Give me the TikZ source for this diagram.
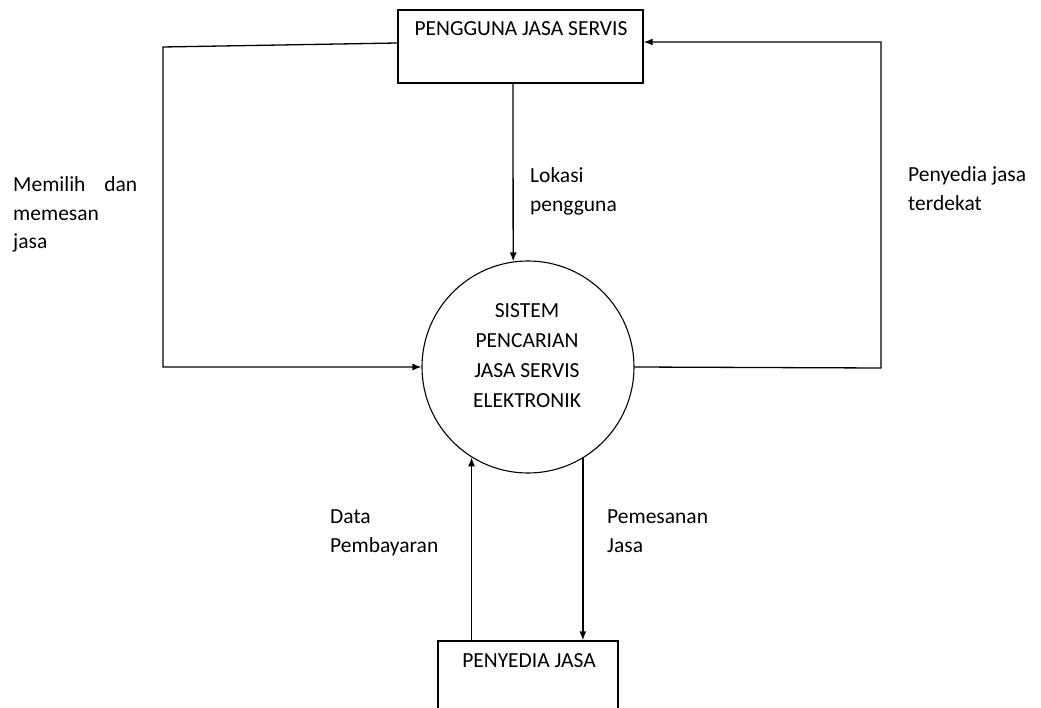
\documentclass[tikz,border=0pt]{standalone}
\usepackage{fontspec}
\setmainfont{Carlito}
\usetikzlibrary{arrows.meta}
\begin{document}
\begin{tikzpicture}[x=1pt,y=-1pt,
  flow/.style={line width=1.3pt,-{Latex[length=9pt,width=7pt]}},
  ent/.style={draw,line width=1.3pt,inner sep=0pt,rectangle},
  proc/.style={draw,line width=1.1pt,circle,inner sep=0pt,minimum size=212pt},
  lbl/.style={font=\fontsize{21.5}{28.5}\selectfont,inner sep=0pt,align=left,anchor=base west},
  ttl/.style={font=\fontsize{21.5}{30}\selectfont,inner sep=0pt,anchor=base}]
\useasboundingbox (0,0) rectangle (1041,708);

% external entities and the process
\node[ent,minimum width=245pt,minimum height=73pt] (user) at (520.5,46.5) {};
\node[ttl] (usertext) at (521,36) {PENGGUNA JASA SERVIS};
\node[proc] (sys) at (528,367) {};
% the anchor of a multi-line node sits on its last baseline
\node[ttl,align=center] (systext) at (527,407) {SISTEM\\PENCARIAN\\JASA SERVIS\\ELEKTRONIK};
\node[ent,minimum width=180pt,minimum height=70pt] (prov) at (528,676) {};
\node[ttl] (provtext) at (529,667) {PENYEDIA JASA};

% data flows
\draw[flow] (user.west |- 0,43) -- (163,47) |- (sys.west);
\draw[flow] (user.south -| 513,0) -- (sys.98);
\draw[flow] (sys.east) -- (881,368) |- (user.east |- 0,42);
\draw[flow] (prov.north -| sys.238) -- (sys.238);
\draw[flow] (sys.-59.4) -- (prov.north -| sys.-59.4);

% flow labels
\node[lbl] (lpilih) at (13,249) {\makebox[124pt][s]{Memilih dan}\\memesan\\jasa};
\node[lbl] (llokasi) at (530,211.5) {Lokasi\\pengguna};
\node[lbl] (lsedia) at (908,210.5) {Penyedia jasa\\terdekat};
\node[lbl] (lbayar) at (330,552) {Data\\Pembayaran};
\node[lbl] (lpesan) at (607,552) {Pemesanan\\Jasa};
\end{tikzpicture}
\end{document}
